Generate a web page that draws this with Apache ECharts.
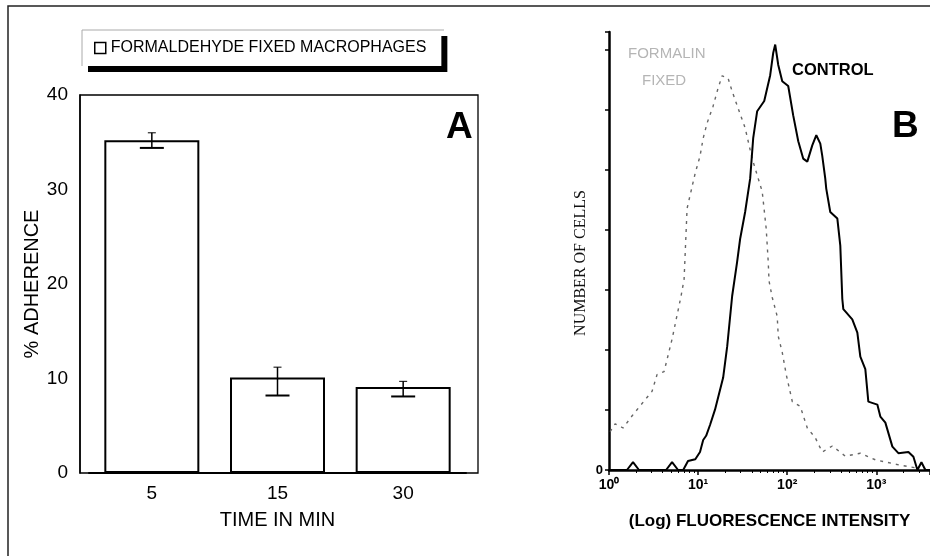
<!DOCTYPE html>
<html>
<head>
<meta charset="utf-8">
<script src="https://cdn.jsdelivr.net/npm/echarts@6/dist/echarts.min.js"></script>
<style>
  html, body { margin: 0; padding: 0; background: #fff; }
  #chart { width: 930px; height: 556px; }
</style>
</head>
<body>
<div id="chart"></div>
<script>
// panel A - adherence
const categories = ['5', '15', '30']
const adherence = [35.2, 10.1, 9.1]
const errLow = [34.4, 8.2, 8.1]
const errHigh = [36.0, 11.2, 9.7]

// panel B - flow cytometry histograms (intensity on log axis, cell count)
const controlIntensity = [1, 1.59, 1.86, 2.17, 4.37, 5.1, 5.96, 6.8, 7.7, 9.3, 10.5, 11.4, 12.3, 13.6, 15.5, 19.1, 21.2, 24.1, 27.4, 29.6, 33.7, 38.4, 41.5, 46.0, 55.2, 64.4, 69.6, 73.3, 79.3, 87.9, 102.6, 116.7, 133, 151, 168, 191, 212, 235, 247, 267, 274, 304, 365, 394, 415, 426, 537, 612, 661, 752, 813, 1026, 1109, 1262, 1513, 1767, 2290, 2606, 2890, 3206, 3550, 4000]
const controlCount = [0, 0, 1.3, 0, 0, 1.3, 0, 0, 1.5, 1.8, 3.0, 5.0, 5.7, 7.5, 10.1, 15.4, 20.6, 29.0, 34.7, 38.5, 43.0, 48.6, 55.3, 59.8, 61.5, 65.8, 69.5, 70.9, 67.5, 64.8, 64.0, 59.1, 54.8, 51.9, 51.4, 54.1, 55.8, 54.4, 52.4, 48.6, 46.9, 43.0, 41.9, 37.4, 28.5, 26.8, 25.1, 22.9, 18.9, 16.8, 11.4, 10.9, 8.9, 7.9, 3.9, 2.8, 3.0, 2.2, 0, 1.3, 0, 0]
const formalinIntensity = [1.03, 1.17, 1.44, 1.81, 2.54, 3.04, 3.46, 4.15, 5.10, 6.44, 6.96, 7.52, 9.25, 10.5, 11.4, 12.6, 14.7, 16.8, 18.6, 21.7, 24.1, 28.1, 33.7, 40.4, 52.4, 58.1, 61.2, 62.5, 67.8, 77.2, 79.3, 87.9, 97.5, 114, 140, 168, 206, 247, 321, 449, 661, 975, 1862, 2890]
const formalinCount = [6.4, 7.7, 7.0, 9.0, 11.7, 13.1, 15.9, 16.4, 21.8, 29.0, 31.8, 43.6, 49.4, 52.3, 55.3, 57.8, 60.6, 63.7, 65.7, 65.3, 63.1, 60.3, 57.0, 51.9, 46.4, 40.2, 34.7, 31.5, 28.8, 25.6, 22.3, 19.6, 15.9, 11.4, 10.6, 7.0, 5.4, 3.0, 4.0, 2.3, 2.8, 1.7, 0.8, 0.3]
const decadeLabels = { 1: '10⁰', 10: '10¹', 100: '10²', 1000: '10³' }

const sans = "'Liberation Sans', Arial, sans-serif"

const chart = echarts.init(document.getElementById('chart'))

const errData = categories.map((c, i) => [i, adherence[i], errLow[i], errHigh[i]])
const controlData = controlIntensity.map((x, i) => [x, controlCount[i]])
const formalinData = formalinIntensity.map((x, i) => [x, formalinCount[i]])

const option = {
  backgroundColor: '#fff',
  animation: false,
  textStyle: { fontFamily: sans, color: '#111' },
  title: [
    { text: 'A', left: 441, top: 104, textStyle: { fontSize: 37, fontWeight: 'bold', color: '#000', fontFamily: sans } },
    { text: 'B', left: 887, top: 103, textStyle: { fontSize: 37, fontWeight: 'bold', color: '#000', fontFamily: sans } },
    { text: 'CONTROL', left: 787, top: 57, textStyle: { fontSize: 16.5, fontWeight: 'bold', color: '#000', fontFamily: sans } },
    { text: 'FORMALIN', left: 623, top: 41, textStyle: { fontSize: 15, fontWeight: 'normal', color: '#b5b5b5', fontFamily: sans } },
    { text: 'FIXED', left: 637, top: 68, textStyle: { fontSize: 15, fontWeight: 'normal', color: '#b5b5b5', fontFamily: sans } }
  ],
  legend: {
    left: 82,
    top: 30,
    data: ['FORMALDEHYDE FIXED MACROPHAGES'],
    icon: 'rect',
    itemWidth: 11,
    itemHeight: 11,
    itemGap: 5,
    padding: [10, 15, 10, 12],
    backgroundColor: '#fff',
    borderWidth: 0,
    shadowColor: '#000',
    shadowBlur: 0,
    shadowOffsetX: 6,
    shadowOffsetY: 6,
    itemStyle: { color: '#fff', borderColor: '#000', borderWidth: 1.5 },
    textStyle: { fontSize: 16, color: '#000', fontFamily: sans }
  },
  grid: [
    { left: 89, right: 464, top: 95, bottom: 83, outerBoundsMode: 'none' },
    { left: 609, right: 0, top: 32, bottom: 86, outerBoundsMode: 'none' }
  ],
  xAxis: [
    {
      type: 'category',
      gridIndex: 0,
      data: categories,
      name: 'TIME IN MIN',
      nameLocation: 'middle',
      nameGap: 37,
      nameTextStyle: { fontSize: 20, color: '#000', fontFamily: sans },
      axisLine: { lineStyle: { color: '#000', width: 2 } },
      axisTick: { inside: true, length: 6, alignWithLabel: true, lineStyle: { color: '#000', width: 2 } },
      axisLabel: { fontSize: 19, color: '#000', margin: 11, fontFamily: sans },
      splitLine: { show: false }
    },
    {
      type: 'log',
      gridIndex: 1,
      logBase: 10,
      min: 1,
      max: 4000,
      name: '(Log) FLUORESCENCE INTENSITY',
      nameLocation: 'middle',
      nameGap: 43,
      nameTextStyle: { fontSize: 17, fontWeight: 'bold', color: '#000', fontFamily: sans },
      axisLine: { lineStyle: { color: '#000', width: 2.5 } },
      axisTick: { length: 5, lineStyle: { color: '#000', width: 1.5 } },
      minorTick: { show: true, splitNumber: 9, length: 3, lineStyle: { color: '#000', width: 1 } },
      axisLabel: {
        fontSize: 14,
        fontWeight: 'bold',
        color: '#000',
        margin: 8,
        showMaxLabel: false,
        fontFamily: sans,
        formatter: function (v) {
          const k = Math.round(v)
          return decadeLabels[k] && Math.abs(v - k) < 1e-6 ? decadeLabels[k] : ''
        }
      },
      splitLine: { show: false },
      minorSplitLine: { show: false }
    }
  ],
  yAxis: [
    {
      type: 'value',
      gridIndex: 0,
      min: 0,
      max: 40,
      interval: 10,
      offset: 9,
      name: '% ADHERENCE',
      nameLocation: 'middle',
      nameGap: 37,
      nameTextStyle: { fontSize: 20, color: '#000', fontFamily: sans },
      axisLine: { show: true, lineStyle: { color: '#000', width: 1.5 } },
      axisTick: { show: false },
      axisLabel: { fontSize: 19, color: '#000', margin: 12, fontFamily: sans },
      splitLine: { show: false }
    },
    {
      type: 'value',
      gridIndex: 1,
      min: 0,
      max: 73,
      interval: 10,
      name: 'NUMBER OF CELLS',
      nameLocation: 'middle',
      nameGap: 20,
      nameTextStyle: { fontSize: 16, color: '#111', fontFamily: "'Liberation Serif', 'DejaVu Serif', serif", padding: [0, 24, 0, 0] },
      axisLine: { show: true, lineStyle: { color: '#000', width: 2.5 } },
      axisTick: { show: true, length: 4, lineStyle: { color: '#000', width: 1.5 } },
      axisLabel: {
        fontSize: 13,
        fontWeight: 'bold',
        color: '#000',
        margin: 6,
        formatter: function (v) { return v === 0 ? '0' : '' }
      },
      splitLine: { show: false }
    }
  ],
  series: [
    {
      name: 'FORMALDEHYDE FIXED MACROPHAGES',
      type: 'bar',
      xAxisIndex: 0,
      yAxisIndex: 0,
      data: adherence,
      barWidth: 95,
      itemStyle: { color: '#fff', borderColor: '#000', borderWidth: 2 },
      z: 2
    },
    {
      name: 'error',
      type: 'custom',
      xAxisIndex: 0,
      yAxisIndex: 0,
      data: errData,
      encode: { x: 0, y: [1, 2, 3] },
      z: 5,
      renderItem: function (params, api) {
        const lo = api.coord([api.value(0), api.value(2)])
        const hi = api.coord([api.value(0), api.value(3)])
        return {
          type: 'group',
          children: [
            { type: 'line', shape: { x1: lo[0], y1: lo[1], x2: hi[0], y2: hi[1] }, style: { stroke: '#000', lineWidth: 1.5 } },
            { type: 'line', shape: { x1: lo[0] - 12, y1: lo[1], x2: lo[0] + 12, y2: lo[1] }, style: { stroke: '#000', lineWidth: 2 } },
            { type: 'line', shape: { x1: hi[0] - 4, y1: hi[1], x2: hi[0] + 4, y2: hi[1] }, style: { stroke: '#000', lineWidth: 1 } }
          ]
        }
      }
    },
    {
      name: 'FORMALIN FIXED',
      type: 'line',
      xAxisIndex: 1,
      yAxisIndex: 1,
      data: formalinData,
      showSymbol: false,
      lineStyle: { color: '#666', width: 1.4, type: [3, 5] },
      z: 3
    },
    {
      name: 'CONTROL',
      type: 'line',
      xAxisIndex: 1,
      yAxisIndex: 1,
      data: controlData,
      showSymbol: false,
      lineStyle: { color: '#000', width: 2 },
      z: 4
    }
  ],
  graphic: [
    // outer figure frame (scanned page border)
    { type: 'rect', shape: { x: 8, y: 6, width: 1000, height: 700 }, style: { fill: 'none', stroke: '#222', lineWidth: 1.5 }, silent: true },
    // panel A plot box
    { type: 'rect', shape: { x: 80, y: 95, width: 398, height: 378 }, style: { fill: 'none', stroke: '#000', lineWidth: 1.3 }, silent: true, z: 10 },
    // faint top/left edge of the legend box
    { type: 'polyline', shape: { points: [[82, 66], [82, 30], [444, 30]] }, style: { fill: 'none', stroke: '#aaa', lineWidth: 1 }, silent: true, z: 10 }
  ]
}

chart.setOption(option)
</script>
</body>
</html>
